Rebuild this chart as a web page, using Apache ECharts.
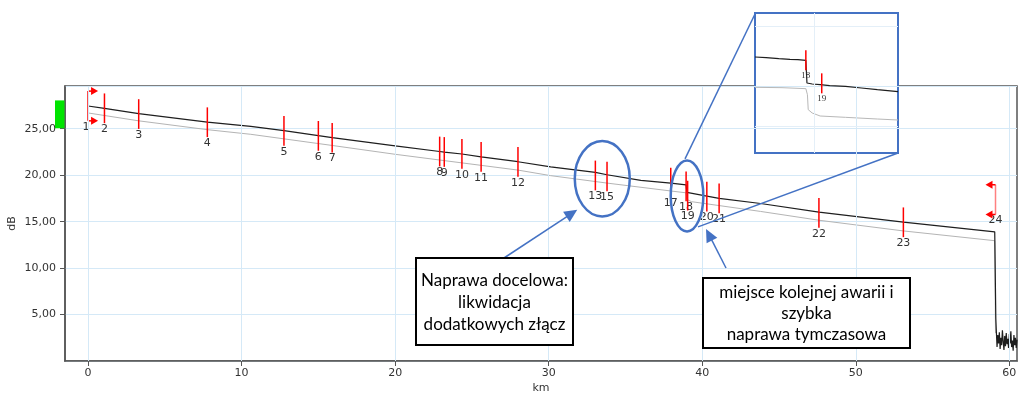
<!DOCTYPE html>
<html>
<head>
<meta charset="utf-8">
<script src="https://cdn.jsdelivr.net/npm/echarts@6/dist/echarts.min.js"></script>
<style>
  html, body { margin: 0; padding: 0; background: #fff; }
  #main { width: 1024px; height: 397px; }
</style>
</head>
<body>
<div id="main"></div>
<script>
// --- data ---
var kmTicks = [0, 10, 20, 30, 40, 50, 60];

var blackTrace = [
  [0, 27.45], [1.07, 27.2], [3.3, 26.62], [7.77, 25.72], [10.6, 25.25], [12.76, 24.8],
  [15.0, 24.25], [15.9, 24.05], [20, 23.15], [22.9, 22.55], [23.2, 22.48], [24.35, 22.28],
  [25.6, 21.98], [28.0, 21.45], [30.13, 20.9], [33.04, 20.3], [33.8, 20.05], [36.0, 19.45],
  [37.95, 19.15], [38.95, 18.95], [39.0, 18.15], [40.3, 17.75], [41.1, 17.5], [43.8, 16.95],
  [47.6, 16.02], [53.1, 14.95], [59.05, 13.9], [59.12, 4.6],
  [59.15, 3.4], [59.2, 1.5], [59.25, 2.8], [59.3, 1.9], [59.35, 3.1], [59.4, 1.3], [59.45, 2.5],
  [59.5, 1.7], [59.55, 3.3], [59.6, 2.1], [59.65, 1.2], [59.7, 2.7], [59.75, 1.6], [59.8, 3.0],
  [59.85, 1.8], [59.9, 2.4], [59.95, 1.4], [60.0, 2.9], [60.05, 1.9], [60.1, 3.2], [60.15, 1.5],
  [60.2, 2.2], [60.25, 1.1], [60.3, 2.8], [60.35, 1.7], [60.4, 2.5], [60.45, 1.4], [60.5, 2.3]
];

var grayTrace = [
  [0, 26.7], [3.3, 25.85], [7.77, 24.9], [10.6, 24.4], [15.9, 23.2], [20, 22.25],
  [28.0, 20.55], [30.13, 19.95], [33.8, 19.15], [37.95, 18.3], [38.95, 18.1], [39.0, 17.4],
  [39.3, 17.15], [43.8, 16.1], [47.6, 15.15], [53.1, 14.0], [59.05, 12.95], [59.1, 3.0]
];

var eventKm = [0, 1.07, 3.3, 7.77, 12.76, 15.0, 15.9, 22.9, 23.2, 24.35, 25.6, 28.0,
  33.04, 33.8, 37.95, 38.95, 39.05, 40.3, 41.1, 47.6, 53.1, 59.1];
var eventDb = [27.45, 27.2, 26.58, 25.7, 24.78, 24.23, 24.03, 22.55, 22.5, 22.3, 21.97, 21.43,
  19.97, 19.86, 19.2, 18.8, 17.8, 17.7, 17.5, 15.95, 14.93, 17.37];
var eventLabel = ['1', '2', '3', '4', '5', '6', '7', '8', '9', '10', '11', '12',
  '13', '15', '17', '18', '19', '20', '21', '22', '23', '24'];

var launchBand = [25.05, 28.05];

// zoomed view of events 18/19
var insetBlack = [
  [38.63, 19.08], [38.7, 19.06], [38.78, 19.03], [38.85, 19.01], [38.9, 19.0], [38.95, 18.98],
  [38.957, 18.3], [38.99, 18.27], [39.04, 18.25], [39.1, 18.22], [39.2, 18.2], [39.3, 18.15],
  [39.4, 18.1], [39.53, 18.04]
];
var insetGray = [
  [38.63, 18.17], [38.8, 18.16], [38.95, 18.13], [38.96, 17.95], [38.965, 17.5], [38.99, 17.4],
  [39.04, 17.31], [39.2, 17.27], [39.4, 17.22], [39.53, 17.19]
];
var insetEventKm = [38.95, 39.05];
var insetEventDb = [18.98, 18.29];
var insetEventLabel = ['18', '19'];

var circled = [[33.49, 19.62], [39.01, 17.77]];

var RED = '#ff0000';
var BLUE = '#4472c4';
var LABEL = '#333';

function pairs(xs, ys) {
  return xs.map(function (x, i) { return [x, ys[i]]; });
}

function arrowHead(x1, y1, x2, y2, len, half) {
  var dx = x2 - x1, dy = y2 - y1;
  var d = Math.sqrt(dx * dx + dy * dy);
  var ux = dx / d, uy = dy / d;
  var bx = x2 - ux * len, by = y2 - uy * len;
  return [[x2, y2], [bx - uy * half, by + ux * half], [bx + uy * half, by - ux * half]];
}

// red event markers drawn through the axis scale
function eventRenderer(half, font, labels, bracketed) {
  return function (params, api) {
    var i = params.dataIndex;
    var x = api.value(0), v = api.value(1);
    var p1 = api.coord([x, v + half]);
    var p2 = api.coord([x, v - half]);
    var last = i === params.dataInsideLength - 1;
    var kids = [{
      type: 'line',
      shape: { x1: p1[0], y1: p1[1], x2: p2[0], y2: p2[1] },
      style: { stroke: (bracketed && last) ? '#ff8080' : RED, lineWidth: 1.5 }
    }, {
      type: 'text',
      x: p2[0] - (bracketed && i === 0 ? 2 : 0),
      y: p2[1] + 0.5,
      style: { text: labels[i], fill: LABEL, font: font, align: 'center', verticalAlign: 'top' }
    }];
    if (bracketed && (i === 0 || last)) {
      var dir = i === 0 ? 1 : -1;
      [p1[1], p2[1]].forEach(function (yy) {
        kids.push({ type: 'line', shape: { x1: p1[0], y1: yy, x2: p1[0] + dir * 4, y2: yy },
          style: { stroke: RED, lineWidth: 1.5 } });
        kids.push({ type: 'polygon',
          shape: { points: [[p1[0] + dir * 3, yy - 4], [p1[0] + dir * 10, yy], [p1[0] + dir * 3, yy + 4]] },
          style: { fill: RED } });
      });
    }
    return { type: 'group', children: kids };
  };
}

var chart = echarts.init(document.getElementById('main'));

var option = {
  animation: false,
  backgroundColor: '#fff',
  grid: [
    { left: 65, top: 86, right: 7, bottom: 36, show: true, borderColor: '#555', borderWidth: 1.5,
      containLabel: false, outerBoundsMode: 'none' },
    { left: 755, top: 13, width: 143, height: 140, show: true, backgroundColor: '#fff',
      borderColor: BLUE, borderWidth: 2, containLabel: false, outerBoundsMode: 'none' }
  ],
  xAxis: [{
    type: 'value', gridIndex: 0, min: -1.5, max: 60.5,
    name: 'km', nameLocation: 'middle', nameGap: 22, nameMoveOverlap: false,
    nameTextStyle: { color: LABEL, fontSize: 11, fontFamily: 'DejaVu Sans' },
    axisLine: { show: true, onZero: false, lineStyle: { color: '#555', width: 1.5 } },
    axisTick: { show: true, length: 5, customValues: kmTicks, lineStyle: { color: '#555' } },
    axisLabel: { customValues: kmTicks, margin: 7, color: LABEL, fontSize: 11, fontFamily: 'DejaVu Sans' },
    splitLine: { show: false }
  }, {
    type: 'value', gridIndex: 1, min: 38.63, max: 39.53, show: false
  }],
  yAxis: [{
    type: 'value', gridIndex: 0, min: 0, max: 29.6, interval: 5,
    name: 'dB', nameLocation: 'middle', nameGap: 47, nameRotate: 90, nameMoveOverlap: false,
    nameTextStyle: { color: LABEL, fontSize: 11, fontFamily: 'DejaVu Sans' },
    axisLine: { show: true, onZero: false, lineStyle: { color: '#555', width: 1.5 } },
    axisTick: { show: true, length: 5, lineStyle: { color: '#555' } },
    axisLabel: {
      showMinLabel: false, showMaxLabel: false, margin: 9, color: LABEL, fontSize: 11,
      fontFamily: 'DejaVu Sans',
      formatter: function (v) { return v.toFixed(2).replace('.', ','); }
    },
    splitLine: { show: true, lineStyle: { color: '#d5e9f7', width: 1 } }
  }, {
    type: 'value', gridIndex: 1, min: 16.2, max: 20.4, show: false
  }],
  series: [
    {
      name: 'kmGrid', type: 'line', data: [], z: 1, silent: true,
      markLine: {
        silent: true, symbol: ['none', 'none'], label: { show: false },
        lineStyle: { color: '#d5e9f7', width: 1, type: 'solid' },
        data: kmTicks.map(function (v) { return { xAxis: v }; })
      }
    },
    {
      name: 'insetGrid', type: 'line', xAxisIndex: 1, yAxisIndex: 1, data: [], z: 1, silent: true,
      markLine: {
        silent: true, symbol: ['none', 'none'], label: { show: false },
        lineStyle: { color: '#e4eff8', width: 1, type: 'solid' },
        data: [{ xAxis: 39.0 }, { yAxis: 17 }, { yAxis: 20 }]
      }
    },
    {
      name: 'ref', type: 'line', data: grayTrace, showSymbol: false, z: 2,
      lineStyle: { color: '#b4b4b4', width: 1 }
    },
    {
      name: 'trace', type: 'line', data: blackTrace, showSymbol: false, z: 3,
      lineStyle: { color: '#1e1e1e', width: 1.2 }
    },
    {
      name: 'events', type: 'custom', z: 4,
      data: pairs(eventKm, eventDb),
      renderItem: eventRenderer(1.6, '11px "DejaVu Sans"', eventLabel, true)
    },
    {
      name: 'insetRef', type: 'line', xAxisIndex: 1, yAxisIndex: 1, data: insetGray,
      showSymbol: false, z: 2, lineStyle: { color: '#b8b8b8', width: 1 }
    },
    {
      name: 'insetTrace', type: 'line', xAxisIndex: 1, yAxisIndex: 1, data: insetBlack,
      showSymbol: false, z: 3, lineStyle: { color: '#1e1e1e', width: 1.2 }
    },
    {
      name: 'insetEvents', type: 'custom', xAxisIndex: 1, yAxisIndex: 1, z: 4,
      data: pairs(insetEventKm, insetEventDb),
      renderItem: eventRenderer(0.3, '9px "Liberation Serif"', insetEventLabel, false)
    }
  ]
};

chart.setOption(option);

// annotations placed from the axis scale
var g = [];
var bTop = chart.convertToPixel({ gridIndex: 0 }, [-1.5, launchBand[1]]);
var bBot = chart.convertToPixel({ gridIndex: 0 }, [-1.5, launchBand[0]]);
g.push({ type: 'rect', z: 50, shape: { x: bTop[0] - 10, y: bTop[1], width: 9.5, height: bBot[1] - bTop[1] },
  style: { fill: '#00e400' } });

var radii = [[27.5, 37.7], [16.3, 35.5]];
var centers = circled.map(function (c) { return chart.convertToPixel({ gridIndex: 0 }, c); });
centers.forEach(function (c, i) {
  g.push({ type: 'ellipse', z: 60, shape: { cx: c[0], cy: c[1], rx: radii[i][0], ry: radii[i][1] },
    style: { fill: 'none', stroke: BLUE, lineWidth: 2.5 } });
});

// connectors from the second ellipse to the zoom box
var c2 = centers[1];
g.push({ type: 'line', z: 60, shape: { x1: c2[0] - 2, y1: c2[1] - 37, x2: 755, y2: 14 },
  style: { stroke: BLUE, lineWidth: 1.5 } });
g.push({ type: 'line', z: 60, shape: { x1: c2[0] + 11, y1: c2[1] + 31, x2: 898, y2: 153 },
  style: { stroke: BLUE, lineWidth: 1.5 } });

// arrows from the text boxes
var arrows = [[504, 258, centers[0][0] - 25, centers[0][1] + 31], [726, 268, c2[0] + 19, c2[1] + 33]];
arrows.forEach(function (a) {
  var head = arrowHead(a[0], a[1], a[2], a[3], 13, 6);
  var hb = arrowHead(a[0], a[1], a[2], a[3], 11, 0)[1];
  g.push({ type: 'line', z: 60, shape: { x1: a[0], y1: a[1], x2: hb[0], y2: hb[1] },
    style: { stroke: BLUE, lineWidth: 1.5 } });
  g.push({ type: 'polygon', z: 60, shape: { points: head }, style: { fill: BLUE } });
});

var boxes = [
  { x: 416, y: 258, w: 157, h: 87, lh: 21.6, text: 'Naprawa docelowa:\nlikwidacja\ndodatkowych złącz' },
  { x: 703, y: 278, w: 207, h: 70, lh: 21, text: 'miejsce kolejnej awarii i\nszybka\nnaprawa tymczasowa' }
];
boxes.forEach(function (b) {
  g.push({ type: 'rect', z: 70, shape: { x: b.x, y: b.y, width: b.w, height: b.h },
    style: { fill: '#fff', stroke: '#000', lineWidth: 2 } });
  g.push({ type: 'text', z: 71, x: b.x + b.w / 2, y: b.y + b.h / 2 + 1,
    style: { text: b.text, fill: '#000', font: '17px Lato', lineHeight: b.lh,
      align: 'center', verticalAlign: 'middle' } });
});

chart.setOption({ graphic: { elements: g } });
</script>
</body>
</html>
